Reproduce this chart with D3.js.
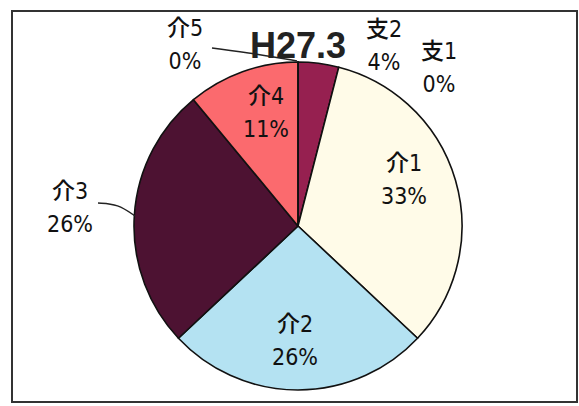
<!DOCTYPE html>
<html>
<head>
<meta charset="utf-8">
<script src="https://cdn.jsdelivr.net/npm/d3@7"></script>
<style>
  body { margin: 0; background: #fff; }
  text { font-family: "Liberation Sans Narrow", "DejaVu Sans Condensed", "Noto Sans CJK JP", sans-serif; fill: #111; }
</style>
</head>
<body>
<svg id="chart" width="579" height="406"></svg>
<script>
// Données
const categories = ["支1", "支2", "介1", "介2", "介3", "介4", "介5"];
const values = [0, 4, 33, 26, 26, 11, 0];
const colors = ["#f2e6a0", "#962050", "#fffbe8", "#b4e2f2", "#4d1232", "#fb6a6e", "#2a1020"];
const title = "H27.3";

// Position des étiquettes (centre du bloc, relatif au centre du camembert)
const labelOffsets = {
    "支1": [141, -161],
    "支2": [86, -183],
    "介1": [106, -49],
    "介2": [-3, 112],
    "介3": [-228, -21],
    "介4": [-32, -116],
    "介5": [-113, -184]
};

const svg = d3.select("#chart");
const cx = 298, cy = 226, r = 164;

// Cadre
svg.append("rect")
    .attr("x", 12).attr("y", 11)
    .attr("width", 565).attr("height", 391)
    .attr("fill", "none")
    .attr("stroke", "#333")
    .attr("stroke-width", 2);

const data = categories.map((c, i) => ({name: c, value: values[i], color: colors[i]}));

const pie = d3.pie().sort(null).value(d => d.value);
const arc = d3.arc().innerRadius(0).outerRadius(r);

const g = svg.append("g").attr("transform", `translate(${cx},${cy})`);

g.selectAll("path")
    .data(pie(data))
    .enter()
    .append("path")
    .attr("d", arc)
    .attr("fill", d => d.data.color)
    .attr("stroke", "#111")
    .attr("stroke-width", 1.6)
    .attr("stroke-linejoin", "round");

// Lignes de rappel (介5 et 介3)
g.append("path")
    .attr("d", d3.line().curve(d3.curveBasis)([[-86, -178], [-40, -172], [-1, -165]]))
    .attr("fill", "none").attr("stroke", "#222").attr("stroke-width", 1.5);
g.append("path")
    .attr("d", d3.line().curve(d3.curveBasis)([[-200, -23], [-180, -22], [-163, -10]]))
    .attr("fill", "none").attr("stroke", "#222").attr("stroke-width", 1.5);

// Titre
svg.append("text")
    .attr("x", cx).attr("y", 58)
    .attr("text-anchor", "middle")
    .style("font-family", "'Liberation Sans', Arial, sans-serif")
    .style("font-weight", "bold")
    .style("font-size", "36px")
    .style("fill", "#222")
    .text(title);

// Étiquettes
const labels = svg.selectAll(".lbl")
    .data(data)
    .enter()
    .append("text")
    .attr("class", "lbl")
    .attr("text-anchor", "middle")
    .attr("x", d => cx + labelOffsets[d.name][0])
    .attr("y", d => cy + labelOffsets[d.name][1]);

labels.append("tspan")
    .attr("dy", -6)
    .style("font-size", "23px")
    .style("font-weight", "500")
    .style("font-family", "'Noto Sans CJK JP', sans-serif")
    .text(d => d.name.slice(0, 1));
labels.append("tspan")
    .style("font-size", "23px")
    .text(d => d.name.slice(1));
labels.append("tspan")
    .attr("x", d => cx + labelOffsets[d.name][0])
    .attr("dy", 33)
    .style("font-size", "23px")
    .text(d => d.value + "%");
</script>
</body>
</html>
